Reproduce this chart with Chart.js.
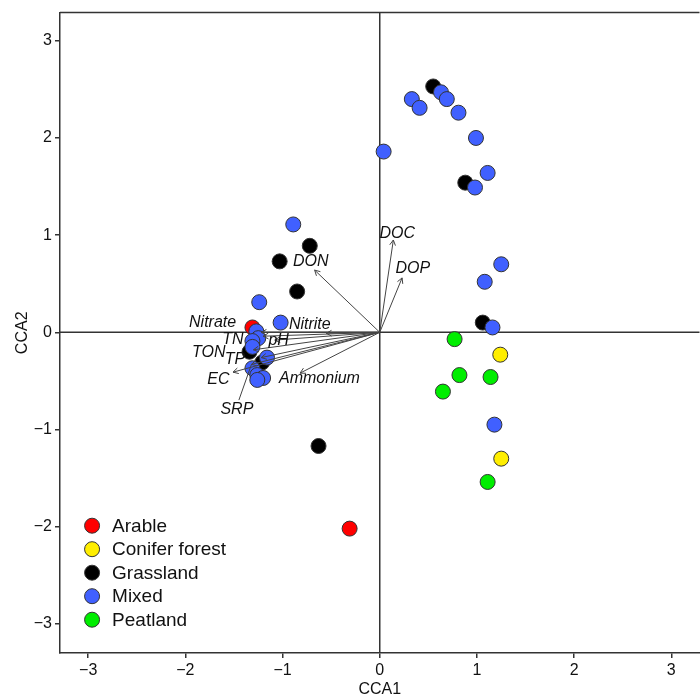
<!DOCTYPE html>
<html>
<head>
<meta charset="utf-8">
<script src="https://cdn.jsdelivr.net/npm/chart.js@4/dist/chart.umd.min.js"></script>
<style>
  html, body { margin: 0; padding: 0; background: #fff; overflow: hidden; }
  #wrap { width: 708px; height: 699px; }
</style>
</head>
<body>
<div id="wrap"><canvas id="cca"></canvas></div>
<script>
// site scores
const arable = [[-1.31, 0.05], [-0.31, -2.02]];
const conifer = [[1.24, -0.23], [1.25, -1.30]];
const grassland = [[0.55, 2.53], [0.88, 1.54], [1.06, 0.10], [-0.72, 0.89], [-1.03, 0.73],
  [-0.85, 0.42], [-1.34, -0.20], [-1.21, -0.31], [-0.63, -1.17]];
const mixed = [[0.04, 1.86], [0.33, 2.40], [0.41, 2.31], [0.63, 2.47], [0.69, 2.40], [0.81, 2.26],
  [0.99, 2.00], [1.11, 1.64], [0.98, 1.49], [1.25, 0.70], [1.08, 0.52], [1.16, 0.05], [1.18, -0.95],
  [-0.89, 1.11], [-1.24, 0.31], [-1.02, 0.10], [-1.27, 0.01], [-1.25, -0.06], [-1.31, -0.09],
  [-1.31, -0.15], [-1.16, -0.26], [-1.31, -0.37], [-1.26, -0.44], [-1.20, -0.47], [-1.26, -0.49]];
const peatland = [[0.77, -0.07], [0.82, -0.44], [1.14, -0.46], [0.65, -0.61], [1.11, -1.54]];

const groupNames = ['Arable', 'Conifer forest', 'Grassland', 'Mixed', 'Peatland'];
const groupColors = ['#ff0000', '#ffee00', '#000000', '#4060ff', '#00ee00'];
const groupPoints = [arable, conifer, grassland, mixed, peatland];

// environmental vectors (arrow tips) and where their labels sit
const envNames = ['DOC', 'DOP', 'DON', 'Nitrite', 'Nitrate', 'TN', 'pH', 'TON', 'TP', 'EC', 'SRP', 'Ammonium'];
const envX = [0.14, 0.23, -0.67, -0.55, -1.22, -1.20, -1.08, -1.30, -1.22, -1.51, -1.32, -0.82];
const envY = [0.95, 0.56, 0.64, -0.01, 0.00, -0.04, -0.08, -0.18, -0.26, -0.41, -0.33, -0.42];
const envLabelX = [0.18, 0.34, -0.71, -0.72, -1.72, -1.51, -1.04, -1.76, -1.49, -1.66, -1.47, -0.62];
const envLabelY = [1.02, 0.66, 0.73, 0.08, 0.10, -0.07, -0.08, -0.21, -0.28, -0.49, -0.79, -0.48];

const tickValues = [-3, -2, -1, 0, 1, 2, 3];

const AXIS = '#333';
const FONT = '"Liberation Sans", Arial, sans-serif';

const frame = {
  id: 'frame',
  beforeDatasetsDraw(chart) {
    const {ctx, chartArea: a, scales: {x, y}} = chart;
    ctx.save();
    ctx.strokeStyle = AXIS;
    ctx.lineWidth = 1.5;
    ctx.beginPath();
    ctx.moveTo(a.left, a.top); ctx.lineTo(a.right, a.top);
    ctx.moveTo(x.getPixelForValue(0), a.top); ctx.lineTo(x.getPixelForValue(0), a.bottom);
    ctx.moveTo(a.left, y.getPixelForValue(0)); ctx.lineTo(a.right, y.getPixelForValue(0));
    ctx.stroke();
    ctx.restore();
  }
};

const biplot = {
  id: 'biplot',
  afterDatasetsDraw(chart) {
    const {ctx, scales: {x, y}} = chart;
    const ox = x.getPixelForValue(0), oy = y.getPixelForValue(0);
    ctx.save();
    ctx.strokeStyle = '#444';
    ctx.lineWidth = 1;
    envNames.forEach((name, i) => {
      const tx = x.getPixelForValue(envX[i]), ty = y.getPixelForValue(envY[i]);
      const ang = Math.atan2(ty - oy, tx - ox);
      ctx.beginPath();
      ctx.moveTo(ox, oy); ctx.lineTo(tx, ty);
      for (const d of [-0.5, 0.5]) {
        ctx.moveTo(tx, ty);
        ctx.lineTo(tx - 6 * Math.cos(ang + d), ty - 6 * Math.sin(ang + d));
      }
      ctx.stroke();
    });
    // leader line for SRP label
    const s = envNames.indexOf('SRP');
    ctx.beginPath();
    ctx.moveTo(x.getPixelForValue(envLabelX[s]) + 2, y.getPixelForValue(envLabelY[s]) - 9);
    ctx.lineTo(x.getPixelForValue(envX[s]), y.getPixelForValue(envY[s]));
    ctx.stroke();

    ctx.fillStyle = '#111';
    ctx.font = 'italic 16px ' + FONT;
    ctx.textAlign = 'center';
    ctx.textBaseline = 'middle';
    envNames.forEach((name, i) => {
      ctx.fillText(name, x.getPixelForValue(envLabelX[i]), y.getPixelForValue(envLabelY[i]));
    });

    // legend inside the plot
    const lx = x.getPixelForValue(-2.96), ly0 = y.getPixelForValue(-1.99);
    ctx.font = '19px ' + FONT;
    ctx.textAlign = 'left';
    chart.data.datasets.forEach((ds, i) => {
      const cy = ly0 + i * 23.5;
      ctx.beginPath();
      ctx.arc(lx, cy, 7.5, 0, Math.PI * 2);
      ctx.fillStyle = ds.backgroundColor;
      ctx.fill();
      ctx.strokeStyle = '#333';
      ctx.stroke();
      ctx.fillStyle = '#111';
      ctx.fillText(ds.label, lx + 20, cy + 1);
    });
    ctx.restore();
  }
};

const minus = v => String(v).replace('-', '\u2212');

new Chart(document.getElementById('cca'), {
  type: 'scatter',
  data: {
    datasets: groupNames.map((name, i) => ({
      label: name,
      data: groupPoints[i].map(([px, py]) => ({x: px, y: py})),
      backgroundColor: groupColors[i],
      borderColor: '#333',
      borderWidth: 1,
      pointRadius: 7.5,
      pointHoverRadius: 7.5,
      order: groupNames.length - i
    }))
  },
  options: {
    responsive: true,
    maintainAspectRatio: false,
    animation: false,
    layout: {padding: {top: 12, right: 0, left: 0, bottom: 0}},
    plugins: {legend: {display: false}, tooltip: {enabled: false}},
    scales: {
      x: {
        type: 'linear', min: -3.29, max: 3.29,
        afterBuildTicks: s => { s.ticks = tickValues.map(v => ({value: v})); },
        afterFit: s => { s.height = 46; },
        grid: {drawOnChartArea: false, drawTicks: true, tickLength: 5, color: AXIS, lineWidth: 1.5},
        border: {display: true, color: AXIS, width: 1.5},
        ticks: {color: '#111', font: {family: FONT, size: 16}, padding: 3, callback: minus},
        title: {display: true, text: 'CCA1', color: '#111', font: {family: FONT, size: 16}, padding: {top: 3, bottom: 0}}
      },
      y: {
        type: 'linear', min: -3.3, max: 3.29,
        afterBuildTicks: s => { s.ticks = tickValues.map(v => ({value: v})); },
        afterFit: s => { s.width = 60; },
        grid: {drawOnChartArea: false, drawTicks: true, tickLength: 5, color: AXIS, lineWidth: 1.5},
        border: {display: true, color: AXIS, width: 1.5},
        ticks: {color: '#111', font: {family: FONT, size: 16}, padding: 3, callback: minus},
        title: {display: true, text: 'CCA2', color: '#111', font: {family: FONT, size: 16}, padding: {top: 13, bottom: 0}}
      }
    }
  },
  plugins: [frame, biplot]
});
</script>
</body>
</html>
